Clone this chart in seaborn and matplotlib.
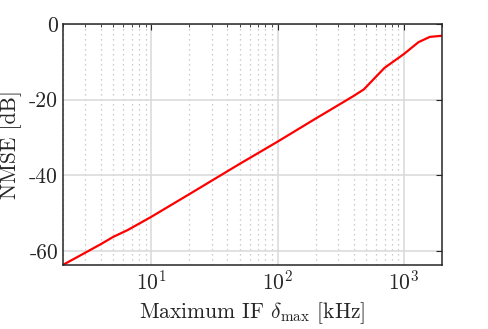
import numpy as np
import pandas as pd
import matplotlib
matplotlib.use("Agg")
import matplotlib.pyplot as plt
import seaborn as sns
from matplotlib.ticker import LogLocator, NullFormatter

# maximum IF (kHz) and NMSE (dB)
if_max = [2, 3, 4, 5, 6.5, 10, 20, 50, 100, 200, 300, 400, 480, 700, 1000, 1300, 1600, 2000]
nmse = [-63.7, -60.5, -58.2, -56.3, -54.5, -51.0, -45.0, -37.0, -31.1, -25.0,
        -21.5, -19.0, -17.3, -11.6, -7.9, -4.8, -3.4, -3.1]
y_ticks = [-60, -40, -20, 0]
y_tick_labels = ["-60", "-40", "-20", "0"]

df = pd.DataFrame({"if_max": if_max, "nmse": nmse})

sns.set_style("white")
plt.rcParams["font.family"] = ["cmr10", "DejaVu Serif"]
plt.rcParams["mathtext.fontset"] = "cm"
plt.rcParams["axes.formatter.use_mathtext"] = True
plt.rcParams["axes.unicode_minus"] = False

fig = plt.figure(figsize=(4.88, 3.29), dpi=100)
ax = fig.add_axes([0.129, 0.195, 0.777, 0.732])

sns.lineplot(data=df, x="if_max", y="nmse", ax=ax, color="red", lw=1.6)

ax.set_xscale("log")
ax.set_xlim(2, 2000)
ax.set_ylim(-63.7, 0)
ax.set_yticks(y_ticks)
ax.set_yticklabels(y_tick_labels)
ax.xaxis.set_minor_locator(LogLocator(base=10, subs=np.arange(2, 10), numticks=20))
ax.xaxis.set_minor_formatter(NullFormatter())

ax.grid(True, which="major", color="#d9d9d9", lw=1.1, ls="-")
ax.grid(True, which="minor", axis="x", color="#bdbdbd", lw=0.9, ls=(0, (1, 3)))
ax.set_axisbelow(True)

for s in ax.spines.values():
    s.set_color("#262626")
    s.set_linewidth(1.1)
ax.tick_params(which="both", direction="in", top=True, right=True, colors="#262626",
               labelsize=15.5, labelcolor="#262626")
ax.tick_params(which="major", length=4)
ax.tick_params(which="minor", length=2.5)

ax.set_xlabel(r"Maximum IF $\delta_{\max}$ [kHz]", fontsize=15.5, color="#262626")
ax.set_ylabel("NMSE [dB]", fontsize=15.5, color="#262626")
ax.yaxis.set_label_coords(-0.108, 0.5)
ax.xaxis.set_label_coords(0.5, -0.145)

fig.savefig("out.png", dpi=100)
